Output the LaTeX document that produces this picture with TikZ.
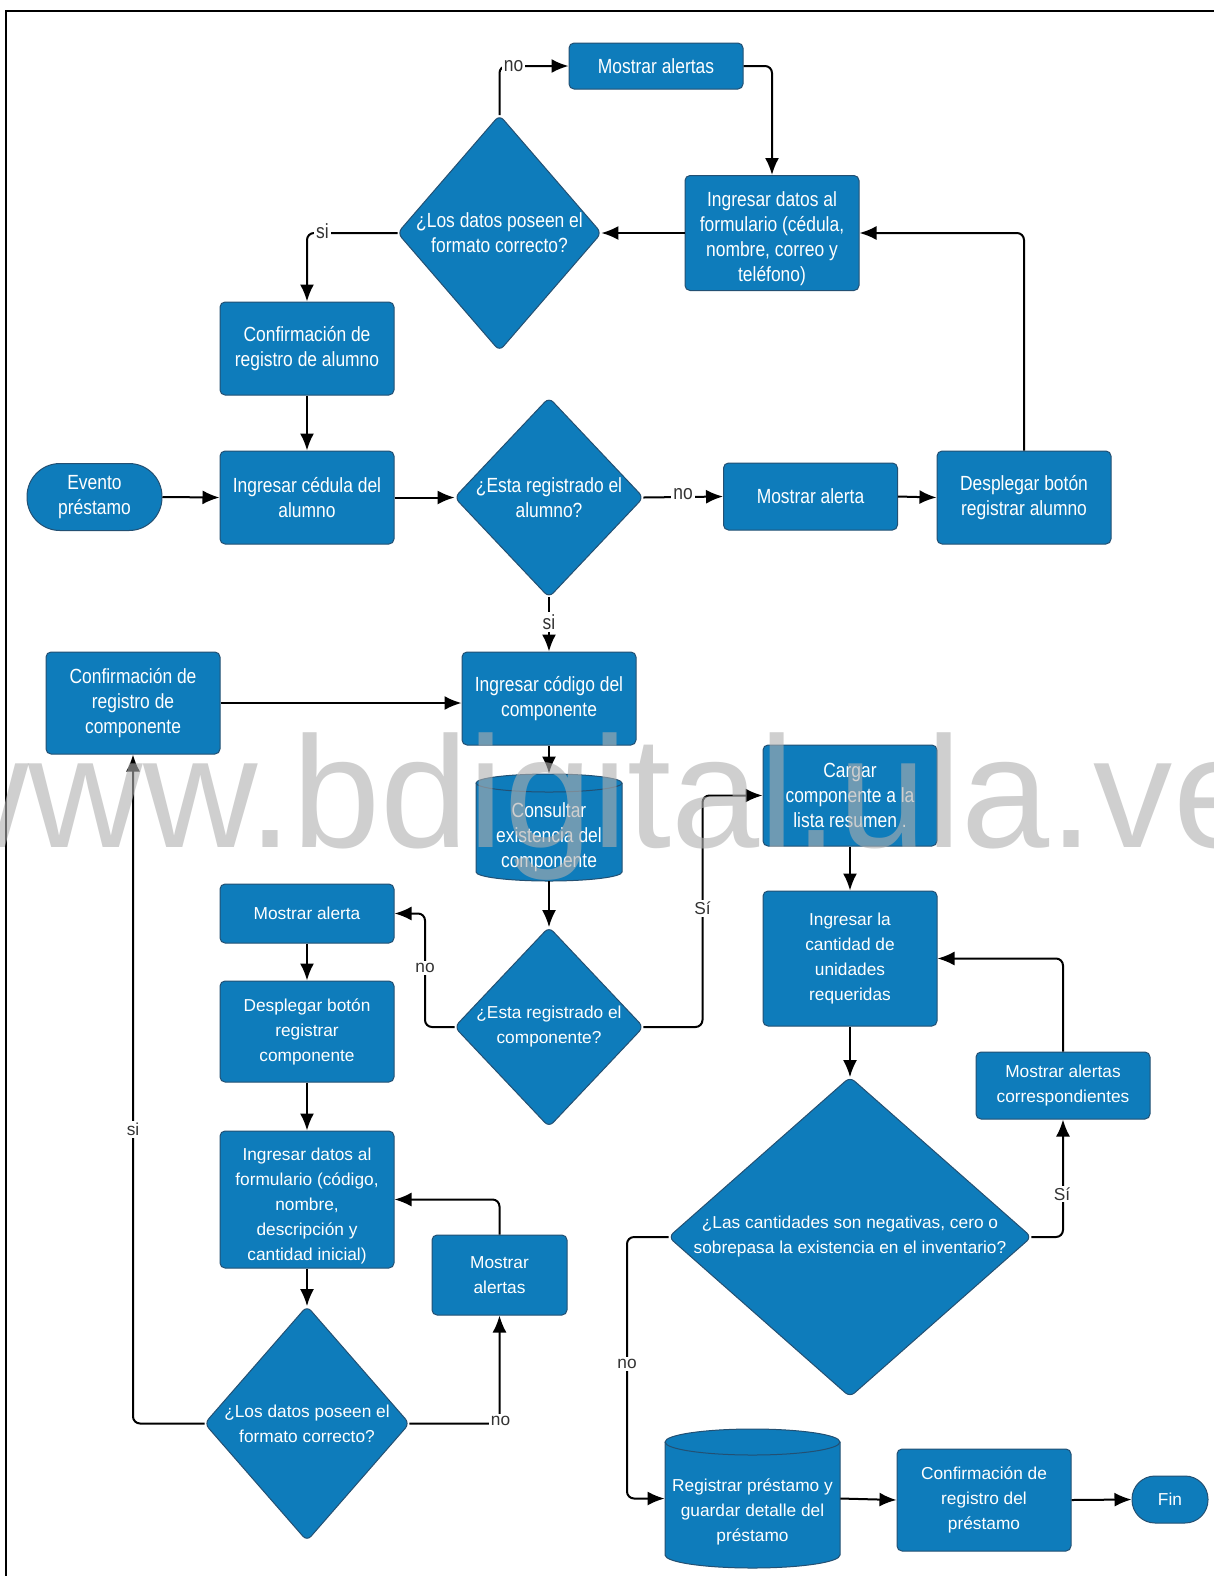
\documentclass[tikz,border=0pt]{standalone}
\usepackage{fontspec}
\setmainfont{Liberation Sans}
\newfontfamily\nfont[FakeStretch=0.85]{Liberation Sans}
\newfontfamily\wfont{Liberation Sans}
\usetikzlibrary{arrows.meta,calc}
\pgfdeclarelayer{bg}
\pgfdeclarelayer{fg}
\pgfsetlayers{bg,main,fg}
\definecolor{boxblue}{RGB}{14,124,187}
\definecolor{boxline}{RGB}{35,80,115}
\definecolor{lblgray}{RGB}{51,51,51}
\definecolor{wmgray}{RGB}{175,175,175}
\begin{document}
\begin{tikzpicture}[x=0.5pt,y=-0.5pt,
  box/.style={draw=boxline, line width=0.5pt, fill=boxblue, rounded corners=2.5pt, text=white, align=center, inner sep=0pt, minimum width=87pt},
  nar/.style={font=\nfont\fontsize{10.25}{12.5}\selectfont},
  wid/.style={font=\wfont\fontsize{8.65}{12.5}\selectfont},
  shp/.style={text=white, align=center, inner sep=0pt},
  dshape/.style={draw=boxline, line width=0.5pt, fill=boxblue, rounded corners=3pt},
  cylshape/.style={draw=boxline, line width=0.5pt, fill=boxblue},
  arr/.style={draw=black, line width=1pt, rounded corners=3.5pt, -{Latex[length=8.5pt,width=7pt]}},
  lbl/.style={fill=white, inner sep=1pt, text=lblgray},
]
\useasboundingbox (0,0) rectangle (1214,1576);
\begin{pgfonlayer}{bg}
\fill[white] (0,0) rectangle (1214,1576);
\end{pgfonlayer}
\draw[line width=0.8pt] (1214,11) -- (6,11) -- (6,1576);

% ---------- nodes ----------
\node[box,nar,minimum height=23pt] (ma1) at (656,66) {Mostrar alertas};
\node[shp,nar,minimum width=101.5pt,minimum height=117.5pt] (d1) at (499.5,233) {¿Los datos poseen el\\formato correcto?};
\node[box,nar,minimum height=57.5pt] (f1) at (772,233) {\rule{0pt}{13.5pt}Ingresar datos al\\formulario (cédula,\\nombre, correo y\\teléfono)};
\node[box,nar,minimum height=46.5pt] (ca) at (307,348.5) {Confirmación de\\registro de alumno};
\node[box,nar,minimum width=67.5pt,minimum height=33.5pt,rounded corners=16.5pt] (ev) at (94.5,497) {Evento\\préstamo};
\node[box,nar,minimum height=46.5pt] (ic) at (307,497.5) {Ingresar cédula del\\alumno};
\node[shp,nar,minimum width=94pt,minimum height=99.5pt] (d2) at (549,497.5) {¿Esta registrado el\\alumno?};
\node[box,nar,minimum height=33.5pt] (mal) at (810.5,496.5) {Mostrar alerta};
\node[box,nar,minimum height=46.5pt] (dba) at (1024,497.5) {Desplegar botón\\registrar alumno};
\node[box,nar,minimum height=51pt] (cc) at (133,703) {Confirmación de\\registro de\\componente};
\node[box,nar,minimum height=46.5pt] (icc) at (549,698.5) {Ingresar código del\\componente};
\node[shp,nar,minimum width=73pt,minimum height=53.5pt] (cons) at (549,827.5) {\rule{0pt}{17.5pt}Consultar\\existencia del\\componente};
\node[box,nar,minimum height=50.5pt] (cg) at (850,795.5) {Cargar\\componente a la\\lista resumen .};
\node[box,wid,minimum height=29.5pt] (ma2) at (307,913.5) {Mostrar alerta};
\node[shp,wid,minimum width=94pt,minimum height=99.5pt] (d3) at (549,1027) {¿Esta registrado el\\componente?};
\node[box,wid,minimum height=67.5pt] (qty) at (850,958.5) {Ingresar la\\cantidad de\\unidades\\requeridas};
\node[box,wid,minimum height=50.5pt] (dbc) at (307,1031.5) {Desplegar botón\\registrar\\componente};
\node[box,wid,minimum height=33.5pt] (mac) at (1063,1085.5) {Mostrar alertas\\correspondientes};
\node[box,wid,minimum height=68.5pt] (f2) at (307,1199.5) {\rule{0pt}{12.8pt}Ingresar datos al\\formulario (código,\\nombre,\\descripción y\\cantidad inicial)};
\node[box,wid,minimum width=67.5pt,minimum height=40pt] (ma3) at (499.5,1275) {Mostrar\\alertas};
\node[shp,wid,minimum width=181pt,minimum height=159.5pt] (d5) at (850,1237) {¿Las cantidades son negativas, cero o\\sobrepasa la existencia en el inventario?};
\node[shp,wid,minimum width=102pt,minimum height=117pt] (d4) at (307,1423.5) {¿Los datos poseen el\\formato correcto?};
\node[shp,wid,minimum width=87.5pt,minimum height=69.5pt] (reg) at (752.5,1498.5) {\rule{0pt}{20pt}Registrar préstamo y\\guardar detalle del\\préstamo};
\node[box,wid,minimum height=51pt] (cp) at (984,1500) {Confirmación de\\registro del\\préstamo};
\node[box,wid,minimum width=38pt,minimum height=23.5pt,rounded corners=11.5pt] (fin) at (1170,1499.5) {Fin};

% ---------- shapes behind text ----------
\begin{pgfonlayer}{bg}
\foreach \n in {d1,d2,d3,d4,d5}
  \draw[dshape] (\n.north) -- (\n.east) -- (\n.south) -- (\n.west) -- cycle;
% cylinder: Consultar
\draw[cylshape] (476,783) -- (476,872) arc[start angle=180,end angle=360,x radius=36.5pt,y radius=4.5pt]
  -- (622,783) arc[start angle=0,end angle=180,x radius=36.5pt,y radius=4.5pt] -- cycle;
\draw[boxline,line width=0.5pt] (476,783) arc[start angle=180,end angle=360,x radius=36.5pt,y radius=4.5pt];
% cylinder: Registrar
\draw[cylshape] (665,1442) -- (665,1555) arc[start angle=180,end angle=360,x radius=43.75pt,y radius=6.5pt]
  -- (840,1442) arc[start angle=0,end angle=180,x radius=43.75pt,y radius=6.5pt] -- cycle;
\draw[boxline,line width=0.5pt] (665,1442) arc[start angle=180,end angle=360,x radius=43.75pt,y radius=6.5pt];
\end{pgfonlayer}

% ---------- helper coordinates ----------
\coordinate (c1) at (425,913.5);
\coordinate (c2) at (702.5,795.5);
\coordinate (c3) at (627,1498.5);

% ---------- connectors ----------
\draw[arr] (d1.north) |- (ma1.west);
\draw[arr] (ma1.east) -| (f1.north);
\draw[arr] (f1.west) -- (d1.east);
\draw[arr] (d1.west) -| (ca.north);
\draw[arr] (ca.south) -- (ic.north);
\draw[arr] (ev.east) -- (ic.west);
\draw[arr] (ic.east) -- (d2.west);
\draw[arr] (d2.east) -- (mal.west);
\draw[arr] (mal.east) -- (dba.west);
\draw[arr] (dba.north) |- (f1.east);
\draw[arr] (d2.south) -- (icc.north);
\draw[arr] (cc.east) -- (cc.east -| icc.west);
\draw[arr] (icc.south) -- (cons.north);
\draw[arr] (cons.south) -- (d3.north);
\draw[arr] (d3.west) -| (c1) -- (ma2.east);
\draw[arr] (d3.east) -| (c2) -- (cg.west);
\draw[arr] (cg.south) -- (qty.north);
\draw[arr] (ma2.south) -- (dbc.north);
\draw[arr] (dbc.south) -- (f2.north);
\draw[arr] (f2.south) -- (d4.north);
\draw[arr] (d4.west) -| (cc.south);
\draw[arr] (d4.east) -| (ma3.south);
\draw[arr] (ma3.north) |- (f2.east);
\draw[arr] (qty.south) -- (d5.north);
\draw[arr] (d5.east) -| (mac.south);
\draw[arr] (mac.north) |- (qty.east);
\draw[arr] (d5.west) -| (c3) -- (reg.west);
\draw[arr] (reg.east) -- (cp.west);
\draw[arr] (cp.east) -- (fin.west);

% ---------- labels ----------
\node[lbl,nar] (l1) at (513.5,66) {no};
\node[lbl,nar] (l2) at (322.5,231) {si};
\node[lbl,nar] (l3) at (683,494) {no};
\node[lbl,nar] (l4) at (549,622) {si};
\node[lbl,wid] (l5) at (425,968) {no};
\node[lbl,wid] (l6) at (702.5,908.5) {Sí};
\node[lbl,wid] (l7) at (133,1129.5) {si};
\node[lbl,wid] (l8) at (500.5,1421) {no};
\node[lbl,wid] (l9) at (1062,1194) {Sí};
\node[lbl,wid] (l10) at (627,1364) {no};

% ---------- watermark ----------
\begin{pgfonlayer}{fg}
\begin{scope}
\clip (0,0) rectangle (1214,1576);
\node[anchor=base west, inner sep=0pt, text=wmgray, opacity=0.6, font=\wfont\fontsize{79.2}{80}\selectfont] (wmk) at (-86,847) {www.bdigital.ula.ve};
\end{scope}
\end{pgfonlayer}
\end{tikzpicture}
\end{document}
